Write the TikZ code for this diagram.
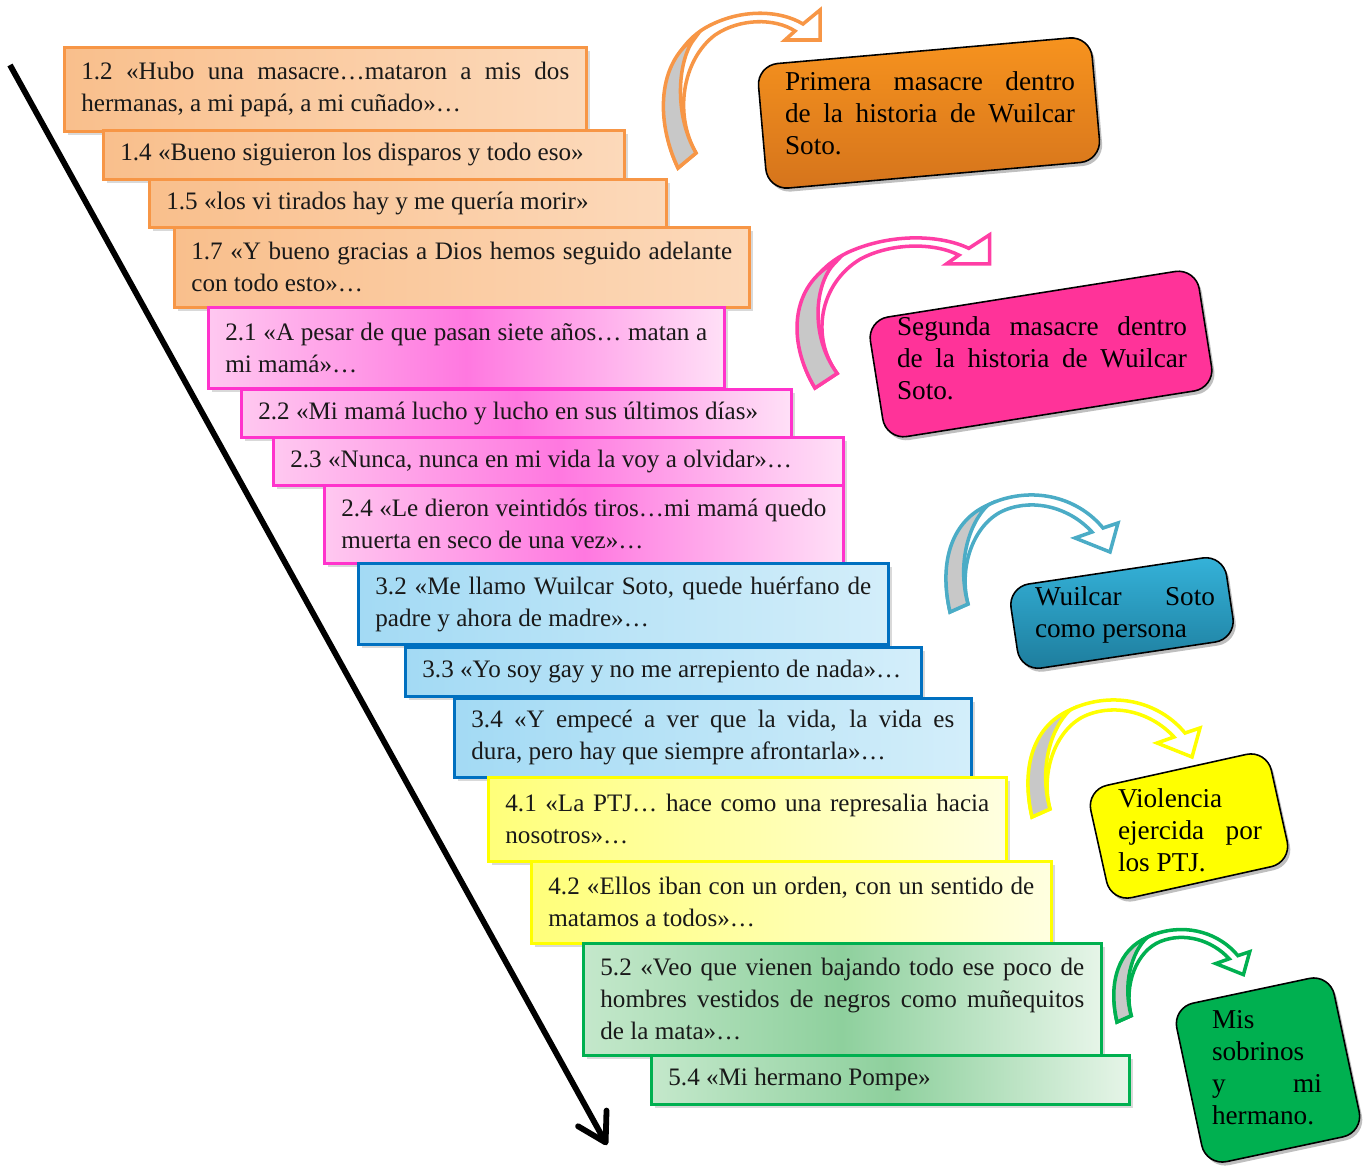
\documentclass[tikz,border=0pt]{standalone}
\usepackage{fontspec}
\setmainfont{Liberation Serif}
\usetikzlibrary{arrows.meta,shadows}
\definecolor{qorangeline}{HTML}{F79646}
\definecolor{qorangea}{HTML}{F9BF8C}
\definecolor{qorangeb}{HTML}{FCD9BA}
\definecolor{qpinkline}{HTML}{FF33CC}
\definecolor{qpinka}{HTML}{FFC8F0}
\definecolor{qpinkb}{HTML}{FF78E0}
\definecolor{qpinkc}{HTML}{FFE0F7}
\definecolor{qblueline}{HTML}{0070C0}
\definecolor{qbluea}{HTML}{A3DAF4}
\definecolor{qblueb}{HTML}{D3EEFA}
\definecolor{qyellowline}{HTML}{FFFF00}
\definecolor{qyellowa}{HTML}{FFFF7A}
\definecolor{qyellowb}{HTML}{FFFFE0}
\definecolor{qgreenline}{HTML}{00B050}
\definecolor{qgreena}{HTML}{C4E8CB}
\definecolor{qgreenb}{HTML}{8ED09D}
\definecolor{qgreenc}{HTML}{E6F5E8}
\definecolor{corangetop}{HTML}{F7931E}
\definecolor{corangebot}{HTML}{D5741C}
\definecolor{cpink}{HTML}{FF3399}
\definecolor{cbluetop}{HTML}{35B3DA}
\definecolor{cbluebot}{HTML}{1D7C9C}
\definecolor{cyellow}{HTML}{FFFF00}
\definecolor{cgreen}{HTML}{00B050}
\definecolor{arroworange}{HTML}{F79646}
\definecolor{arrowpink}{HTML}{FF3EA5}
\definecolor{arrowblue}{HTML}{4BACC6}
\definecolor{arrowyellow}{HTML}{FFFF00}
\definecolor{arrowgreen}{HTML}{00B050}
\definecolor{bentgray}{HTML}{C8C8C8}

% curved ribbon arrows, tail at the origin (pixel units)
\tikzset{
  bentup/.pic={
    \path[pic actions, fill=white] (0,0) .. controls (-23,-48) and (-18,-113) .. (27,-140)
      .. controls (62,-160) and (102,-158) .. (125,-144) -- (142,-158) -- (142,-128)
      -- (107,-128) -- (117,-137) .. controls (97,-150) and (62,-150) .. (37,-133)
      .. controls (4,-108) and (-4,-53) .. (18,-15) -- cycle;
    \path[pic actions, fill=bentgray] (0,0) .. controls (-23,-48) and (-20,-106) .. (17,-130)
      .. controls (0,-110) and (-5,-55) .. (18,-15) -- cycle;
  },
  bentflat/.pic={
    \path[pic actions, fill=white] (0,0) .. controls (-12,-52) and (5,-97) .. (50,-112)
      .. controls (90,-125) and (130,-112) .. (153,-84) -- (168,-89) -- (160,-60)
      -- (125,-74) -- (142,-80) .. controls (120,-104) and (85,-114) .. (55,-102)
      .. controls (25,-90) and (8,-47) .. (18,-8) -- cycle;
    \path[pic actions, fill=bentgray] (0,0) .. controls (-12,-52) and (3,-92) .. (38,-107)
      .. controls (18,-88) and (7,-47) .. (18,-8) -- cycle;
  }
}

\begin{document}
\begin{tikzpicture}[x=0.02cm, y=-0.02cm,
  qbox/.style={anchor=north west, line width=1.6pt, inner xsep=0.34cm, inner ysep=1pt,
    align=justify, text=black!90, font=\fontsize{14.3}{18.2}\selectfont,
    drop shadow={opacity=0.3, shadow xshift=2pt, shadow yshift=-2pt}},
  qorange/.style={qbox, draw=qorangeline, left color=qorangea, right color=qorangeb},
  qpink/.style={qbox, draw=qpinkline, left color=qpinka, right color=qpinkc, middle color=qpinkb},
  qblue/.style={qbox, draw=qblueline, left color=qbluea, right color=qblueb},
  qyellow/.style={qbox, draw=qyellowline, left color=qyellowa, right color=qyellowb},
  qgreen/.style={qbox, draw=qgreenline, left color=qgreena, right color=qgreenc, middle color=qgreenb},
  callout/.style={draw=black, line width=0.9pt, rounded corners=0.42cm,
    drop shadow={opacity=0.5, shadow xshift=1.5pt, shadow yshift=-2pt}},
  calltext/.style={text width=#1, inner sep=0pt, align=justify,
    font=\fontsize{15.5}{18.2}\selectfont},
  bent/.style={draw=#1, line width=2pt, line join=miter}
]
  \useasboundingbox (0,0) rectangle (1372,1170);

  % long time line
  \coordinate (start) at (10,65);
  \coordinate (finish) at (607,1145);
  \draw[line width=3.3pt, -{Straight Barb[round, length=5.5mm, width=6.5mm]}] (start) -- (finish);

  % quotes
  \node[qorange, text width=9.76cm, minimum height=1.68cm] (q12) at (63,46)
    {1.2 «Hubo una masacre…mataron a mis dos\linebreak hermanas, a mi papá, a mi cuñado»…};
  \node[qorange, text width=9.74cm, minimum height=0.98cm] (q14) at (102,129)
    {1.4 «Bueno siguieron los disparos y todo eso»};
  \node[qorange, text width=9.66cm, minimum height=0.96cm] (q15) at (148,178)
    {1.5 «los vi tirados hay y me quería morir»};
  \node[qorange, text width=10.82cm, minimum height=1.6cm] (q17) at (173,226)
    {1.7 «Y bueno gracias a Dios hemos seguido adelante\linebreak con todo esto»…};

  \node[qpink, text width=9.64cm, minimum height=1.62cm] (q21) at (207,306)
    {2.1 «A pesar de que pasan siete años… matan a\linebreak mi mamá»…};
  \node[qpink, text width=10.32cm, minimum height=0.96cm] (q22) at (240,388)
    {2.2 «Mi mamá lucho y lucho en sus últimos días»};
  \node[qpink, text width=10.72cm, minimum height=0.96cm] (q23) at (272,436)
    {2.3 «Nunca, nunca en mi vida la voy a olvidar»…};
  \node[qpink, text width=9.7cm, minimum height=1.56cm] (q24) at (323,484)
    {2.4 «Le dieron veintidós tiros…mi mamá quedo\linebreak muerta en seco de una vez»…};

  \node[qblue, text width=9.92cm, minimum height=1.62cm] (q32) at (357,562)
    {3.2 «Me llamo Wuilcar Soto, quede huérfano de\linebreak padre y ahora de madre»…};
  \node[qblue, text width=9.64cm, minimum height=0.98cm] (q33) at (404,646)
    {3.3 «Yo soy gay y no me arrepiento de nada»…};
  \node[qblue, text width=9.66cm, minimum height=1.58cm] (q34) at (453,697)
    {3.4 «Y empecé a ver que la vida, la vida es\linebreak dura, pero hay que siempre afrontarla»…};

  \node[qyellow, text width=9.68cm, minimum height=1.68cm] (q41) at (487,776)
    {4.1 «La PTJ… hace como una represalia hacia\linebreak nosotros»…};
  \node[qyellow, text width=9.72cm, minimum height=1.64cm] (q42) at (530,860)
    {4.2 «Ellos iban con un orden, con un sentido de\linebreak matamos a todos»…};

  \node[qgreen, text width=9.68cm, minimum height=2.24cm] (q52) at (582,942)
    {5.2 «Veo que vienen bajando todo ese poco de\linebreak hombres vestidos de negros como muñequitos\linebreak de la mata»…};
  \node[qgreen, text width=8.88cm, minimum height=0.98cm] (q54) at (650,1054)
    {5.4 «Mi hermano Pompe»};

  % curved arrows
  \pic[bent=arroworange] (a1) at (678,168) {bentup};
  \pic[bent=arrowpink, xscale=1.23, yscale=0.97] (a2) at (815,388) {bentup};
  \pic[bent=arrowblue] (a3) at (950,612) {bentflat};
  \pic[bent=arrowyellow] (a4) at (1032,817) {bentflat};
  \pic[bent=arrowgreen, scale=0.79] (a5) at (1117,1022) {bentflat};

  % tilted callouts, text kept level
  \node[callout, top color=corangetop, bottom color=corangebot, rotate=5,
    minimum width=6.7cm, minimum height=2.5cm] (c1) at (929,113) {};
  \node[calltext=5.8cm] (t1) at (930,113)
    {Primera masacre dentro\linebreak de la historia de Wuilcar\linebreak Soto.};

  \node[callout, fill=cpink, rotate=9,
    minimum width=6.66cm, minimum height=2.42cm] (c2) at (1041,354) {};
  \node[calltext=5.8cm] (t2) at (1042,358)
    {Segunda masacre dentro\linebreak de la historia de Wuilcar\linebreak Soto.};

  \node[callout, top color=cbluetop, bottom color=cbluebot, rotate=8.5,
    minimum width=4.36cm, minimum height=1.7cm] (c3) at (1122,613) {};
  \node[calltext=3.6cm] (t3) at (1125,615)
    {Wuilcar Soto\linebreak como persona};

  \node[callout, fill=cyellow, rotate=12.5,
    minimum width=3.7cm, minimum height=2.3cm] (c4) at (1189,826) {};
  \node[calltext=2.88cm] (t4) at (1190,830)
    {Violencia\\ ejercida por\linebreak los PTJ.};

  \node[callout, fill=cgreen, rotate=12,
    minimum width=3.22cm, minimum height=3.24cm] (c5) at (1268,1070) {};
  \node[calltext=2.2cm] (t5) at (1267,1068)
    {Mis\\ sobrinos\\ y mi\linebreak hermano.};
\end{tikzpicture}
\end{document}
